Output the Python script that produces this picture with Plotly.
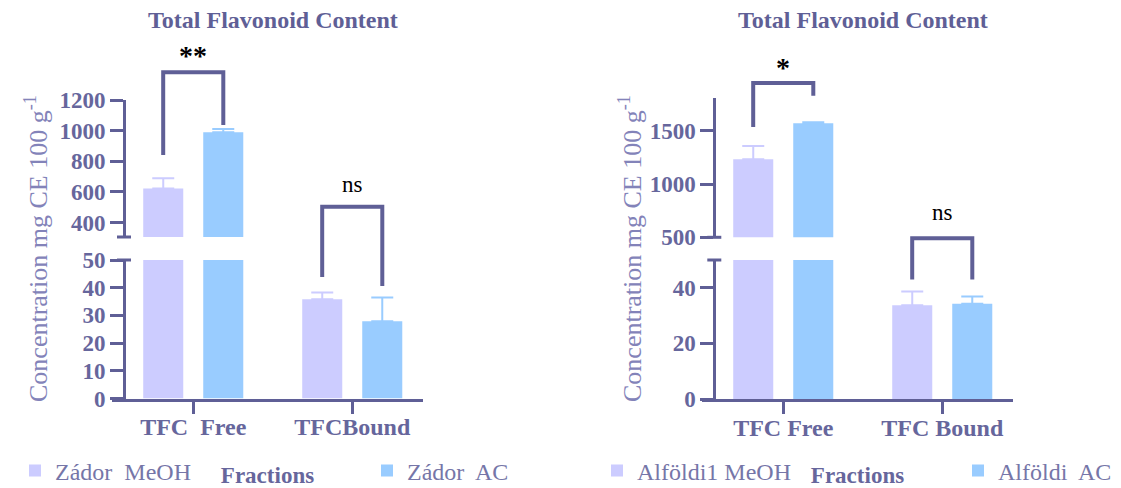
import plotly.graph_objects as go

W, H = 1121, 488

# ---------------- data ----------------
categories_left = ["TFC  Free", "TFCBound"]
categories_right = ["TFC Free", "TFC Bound"]

zador_meoh = [622, 35.8]
zador_meoh_sd = [67, 2.5]
zador_ac = [990, 27.9]
zador_ac_sd = [20, 8.6]

alfoldi_meoh = [1234, 33.7]
alfoldi_meoh_sd = [125, 5.0]
alfoldi_ac = [1572, 34.3]
alfoldi_ac_sd = [10, 2.6]

names_left = ["Zádor  MeOH", "Zádor  AC"]
names_right = ["Alföldi1 MeOH", "Alföldi  AC"]

left_top_ticks = [400, 600, 800, 1000, 1200]
left_bottom_ticks = [0, 10, 20, 30, 40, 50]
right_top_ticks = [500, 1000, 1500]
right_bottom_ticks = [0, 20, 40]

# significance labels: (label, category index, left-leg foot, bracket top, right-leg foot, label height)
# each height given as (segment, value in mg CE 100 g-1)
sig_left = [
    ("**", 0, ("top", 841), ("top", 1382), ("top", 1037), ("top", 1490)),
    ("ns", 1, ("bot", 43.9), ("top", 502), ("bot", 40.6), ("top", 646)),
]
sig_right = [
    ("*", 0, ("top", 1538), ("top", 1952), ("top", 1830), ("top", 2100)),
    ("ns", 1, ("bot", 43), ("top", 490), ("bot", 43), ("top", 729)),
]

# ---------------- style ----------------
FONT = "Liberation Serif, Times New Roman, Tinos, DejaVu Serif, Noto Serif, serif"
AX = "#5f5f96"
TICKC = "#66669c"
AXT = "#8383b9"
LEGC = "#7676a8"
TITLEC = "#5f5f96"
C_MEOH = "#ccccff"
C_AC = "#99ccff"
XR = [-0.511, 1.445]
HALF = 0.189  # half distance between grouped bar centres (category units)

panels = [
    dict(cats=categories_left, meoh=zador_meoh, meoh_sd=zador_meoh_sd, ac=zador_ac, ac_sd=zador_ac_sd,
         names=names_left, xa="x", yb="y", yt="y2", legs=("legend", "legend2"),
         xdom=[112 / W, 423 / W], ypos=124 / W,
         bdom=[1 - 398.5 / H, 1 - 260 / H], tdom=[1 - 237 / H, 1 - 100 / H],
         brng=[0, 50], trng=[305, 1200], bt=left_bottom_ticks, tt=left_top_ticks,
         sig=sig_left, title_x=272.5 / W, ytitle_x=36 / W,
         leg_x=(55 - 40) / W, leg2_x=(407 - 40) / W),
    dict(cats=categories_right, meoh=alfoldi_meoh, meoh_sd=alfoldi_meoh_sd, ac=alfoldi_ac, ac_sd=alfoldi_ac_sd,
         names=names_right, xa="x2", yb="y3", yt="y4", legs=("legend3", "legend4"),
         xdom=[702 / W, 1013 / W], ypos=714.3 / W,
         bdom=[1 - 399 / H, 1 - 260 / H], tdom=[1 - 237.3 / H, 1 - 98 / H],
         brng=[0, 50], trng=[500, 1810], bt=right_bottom_ticks, tt=right_top_ticks,
         sig=sig_right, title_x=862.5 / W, ytitle_x=630 / W,
         leg_x=(637 - 40) / W, leg2_x=(998 - 40) / W),
]


def lin(v, rng, dom):
    return dom[0] + (v - rng[0]) / (rng[1] - rng[0]) * (dom[1] - dom[0])


fig = go.Figure()
layout = dict(
    width=W, height=H, margin=dict(l=0, r=0, t=0, b=0, autoexpand=False),
    paper_bgcolor="white", plot_bgcolor="rgba(0,0,0,0)",
    barmode="group", bargap=0.245, bargroupgap=0.333,
    font=dict(family=FONT, color=TICKC),
    shapes=[], annotations=[],
)

tickfont = dict(family=FONT, size=23, color=TICKC, weight="bold")

for p in panels:
    for seg, yax in (("bot", p["yb"]), ("top", p["yt"])):
        for i, (vals, sd, col) in enumerate(((p["meoh"], p["meoh_sd"], C_MEOH), (p["ac"], p["ac_sd"], C_AC))):
            fig.add_trace(go.Bar(
                x=p["cats"], y=vals, name=p["names"][i],
                marker=dict(color=col, line=dict(width=0)),
                error_y=dict(type="data", symmetric=False, array=sd, arrayminus=[0] * len(sd),
                             color=col, thickness=2, width=11),
                xaxis=p["xa"], yaxis=yax,
                legend=p["legs"][i], showlegend=(seg == "bot"),
                hoverinfo="skip",
            ))

    xkey = "xaxis" if p["xa"] == "x" else "xaxis" + p["xa"][1:]
    layout[xkey] = dict(
        domain=p["xdom"], range=XR, type="category", anchor=p["yb"],
        showline=True, linecolor=AX, linewidth=3,
        ticks="outside", ticklen=12, tickwidth=2.5, tickcolor=AX,
        ticklabelstandoff=-7,
        tickfont=dict(family=FONT, size=24, color=TICKC, weight="bold"),
        title=dict(text="Fractions", standoff=33,
                   font=dict(family=FONT, size=23, color=TICKC, weight="bold")),
        showgrid=False, zeroline=False, automargin=False, fixedrange=True,
    )
    for yax, dom, rng, tv in ((p["yb"], p["bdom"], p["brng"], p["bt"]),
                              (p["yt"], p["tdom"], p["trng"], p["tt"])):
        ykey = "yaxis" if yax == "y" else "yaxis" + yax[1:]
        layout[ykey] = dict(
            domain=dom, range=rng, anchor="free", position=p["ypos"],
            showline=True, linecolor=AX, linewidth=3,
            ticks="outside", ticklen=13, tickwidth=3, tickcolor=AX,
            tickvals=tv, ticktext=[str(v) for v in tv], tickfont=tickfont,
            showgrid=False, zeroline=False, automargin=False, fixedrange=True,
        )

    # break caps on the y axis
    capw = 7 / W
    for yv in (lin(p["brng"][1], p["brng"], p["bdom"]), lin(p["trng"][0], p["trng"], p["tdom"])):
        layout["shapes"].append(dict(type="line", xref="paper", yref="paper",
                                     x0=p["ypos"] - capw, x1=p["ypos"] + capw, y0=yv, y1=yv,
                                     line=dict(color=AX, width=3)))

    def ypap(spec, p=p):
        seg, v = spec
        if seg == "top":
            return lin(v, p["trng"], p["tdom"])
        return lin(v, p["brng"], p["bdom"])

    for label, ci, foot_l, top, foot_r, lab in p["sig"]:
        xl = lin(ci - HALF, XR, p["xdom"])
        xr_ = lin(ci + HALF, XR, p["xdom"])
        yl, yt_, yr = ypap(foot_l), ypap(top), ypap(foot_r)
        layout["shapes"].append(dict(
            type="path", xref="paper", yref="paper",
            path=f"M{xl},{yl} L{xl},{yt_} L{xr_},{yt_} L{xr_},{yr}",
            line=dict(color=AX, width=4), fillcolor="rgba(0,0,0,0)"))
        star = "*" in label
        layout["annotations"].append(dict(
            text=label, xref="paper", yref="paper", x=lin(ci, XR, p["xdom"]), y=ypap(lab),
            showarrow=False, xanchor="center", yanchor="middle",
            font=dict(family=FONT, size=28 if star else 23, color="black",
                      weight="bold" if star else "normal")))

    # chart title
    layout["annotations"].append(dict(
        text="Total Flavonoid Content", xref="paper", yref="paper", x=p["title_x"], y=1 - 20 / H,
        showarrow=False, xanchor="center", yanchor="middle",
        font=dict(family=FONT, size=24, color=TITLEC, weight="bold")))
    # y axis title spanning both segments
    layout["annotations"].append(dict(
        text="Concentration mg CE 100 g<sup>-1</sup>", xref="paper", yref="paper",
        x=p["ytitle_x"], y=1 - 249 / H, textangle=-90,
        showarrow=False, xanchor="center", yanchor="middle",
        font=dict(family=FONT, size=26, color=AXT)))

    for lk, lx in zip(p["legs"], (p["leg_x"], p["leg2_x"])):
        layout[lk] = dict(x=lx, y=1 - 471 / H, xanchor="left", yanchor="middle",
                          orientation="h", bgcolor="rgba(0,0,0,0)",
                          font=dict(family=FONT, size=24, color=LEGC), itemwidth=30)

fig.update_layout(**layout)
fig.write_html(
    "out.html", config={"displayModeBar": False, "staticPlot": True},
    post_script=("document.documentElement.style.overflow='hidden';"
                 "document.body.style.margin='0';document.body.style.padding='0';"
                 "document.body.style.overflow='hidden';"))
